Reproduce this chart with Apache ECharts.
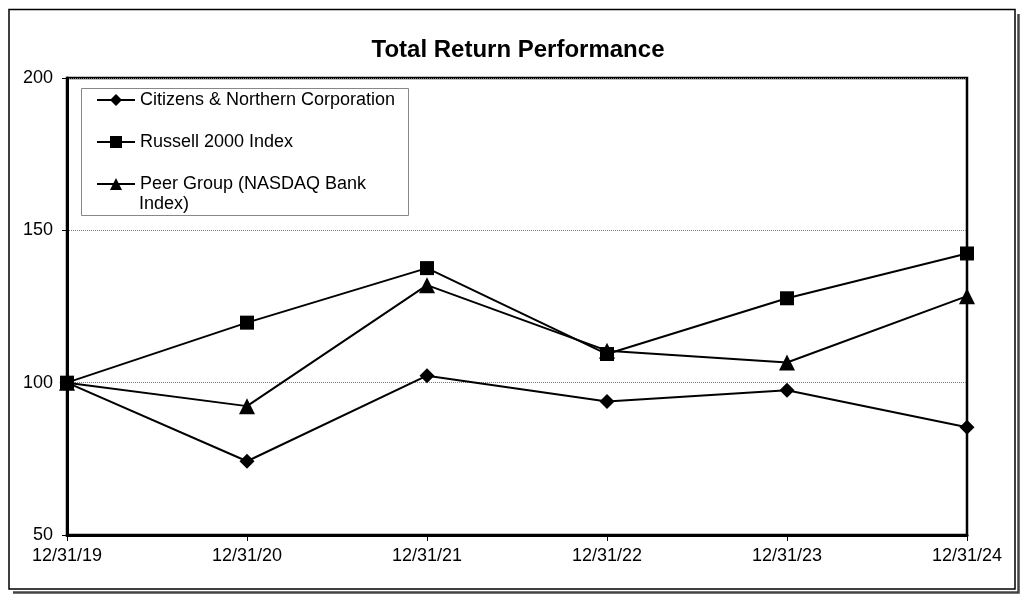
<!DOCTYPE html>
<html>
<head>
<meta charset="utf-8">
<script src="https://cdn.jsdelivr.net/npm/echarts@6/dist/echarts.min.js"></script>
<style>
  html, body { margin: 0; padding: 0; background: #fff; }
  #chart { width: 1036px; height: 613px; }
</style>
</head>
<body>
<div id="chart"></div>
<script>
const categories = ['12/31/19', '12/31/20', '12/31/21', '12/31/22', '12/31/23', '12/31/24'];
const citizens = [100, 74.2, 102.3, 93.8, 97.5, 85.4];
const russell = [100, 119.7, 137.6, 109.4, 127.7, 142.4];
const peer = [100, 92.3, 132.0, 110.5, 106.6, 128.4];
const seriesNames = ['Citizens & Northern Corporation', 'Russell 2000 Index', 'Peer Group (NASDAQ Bank Index)'];
const yTicks = [50, 100, 150, 200];

const FONT = '"Liberation Sans", Arial, sans-serif';
const chart = echarts.init(document.getElementById('chart'), null, { renderer: 'canvas' });

function lineSeries(name, data, symbol, size) {
  return {
    name: name,
    type: 'line',
    data: data,
    symbol: symbol,
    symbolSize: size,
    showAllSymbol: true,
    lineStyle: { color: '#000', width: 2 },
    itemStyle: { color: '#000' },
    emphasis: { disabled: true },
    animation: false,
    z: 3
  };
}

chart.setOption({
  animation: false,
  backgroundColor: '#fff',
  title: {
    text: 'Total Return Performance',
    left: 'center',
    top: 33,
    textStyle: { fontFamily: FONT, fontSize: 24, fontWeight: 'bold', color: '#000' }
  },
  legend: {
    orient: 'vertical',
    left: 96,
    top: 89.5,
    itemWidth: 38,
    itemHeight: 15,
    itemGap: 21,
    padding: 0,
    selectedMode: false,
    data: seriesNames,
    formatter: function (n) {
      return n === seriesNames[2] ? 'Peer Group (NASDAQ Bank' : n;
    },
    textStyle: { fontFamily: FONT, fontSize: 18, color: '#000', lineHeight: 21 }
  },
  grid: {
    left: 67, right: 69, top: 78, bottom: 78,
    show: true,
    borderColor: '#000',
    borderWidth: 2.5,
    backgroundColor: 'transparent'
  },
  xAxis: {
    type: 'category',
    data: categories,
    boundaryGap: false,
    axisLine: { lineStyle: { color: '#000', width: 3 } },
    axisTick: { show: true, alignWithLabel: true, length: 6, lineStyle: { color: '#000', width: 1 } },
    axisLabel: { fontFamily: FONT, fontSize: 18, color: '#000', margin: 12, interval: 0 },
    splitLine: { show: false }
  },
  yAxis: {
    type: 'value',
    min: yTicks[0],
    max: yTicks[yTicks.length - 1],
    interval: 50,
    axisLine: { show: true, lineStyle: { color: '#000', width: 3 } },
    axisTick: { show: true, length: 5, lineStyle: { color: '#000', width: 1 } },
    axisLabel: { fontFamily: FONT, fontSize: 18, color: '#000', margin: 14 },
    splitLine: { show: true, lineStyle: { color: '#777', width: 1, type: [1, 1] } }
  },
  graphic: [
    {
      type: 'rect',
      shape: { x: 81.5, y: 88.5, width: 327, height: 127 },
      style: { fill: 'transparent', stroke: '#888', lineWidth: 1 },
      z: 5, silent: true
    },
    {
      type: 'text',
      left: 139, top: 195,
      style: { text: 'Index)', font: '18px "Liberation Sans", Arial, sans-serif', fill: '#000' },
      z: 5, silent: true
    },
    {
      type: 'rect',
      shape: { x: 9, y: 9.5, width: 1006, height: 579.5 },
      style: { fill: 'transparent', stroke: '#000', lineWidth: 1.5 },
      z: 1, silent: true
    },
    {
      type: 'polyline',
      shape: { points: [[1018.5, 14], [1018.5, 592.5], [13, 592.5]] },
      style: { fill: 'none', stroke: '#444', lineWidth: 2.5 },
      z: 1, silent: true
    }
  ],
  series: [
    lineSeries(seriesNames[0], citizens, 'diamond', 15),
    lineSeries(seriesNames[1], russell, 'rect', 14),
    lineSeries(seriesNames[2], peer, 'triangle', 16)
  ]
});
</script>
</body>
</html>
